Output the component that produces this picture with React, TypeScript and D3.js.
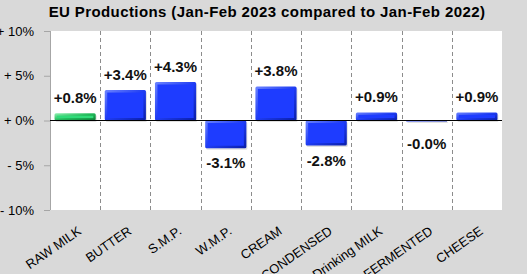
import React from 'react';
import * as d3 from 'd3';

const categories = ['RAW MILK', 'BUTTER', 'S.M.P.', 'W.M.P.', 'CREAM', 'CONDENSED', 'Drinking MILK', 'FERMENTED', 'CHEESE'];
const values = [0.8, 3.4, 4.3, -3.1, 3.8, -2.8, 0.9, -0.02, 0.9];
const yTicks = [10, 5, 0, -5, -10];
const yTickLabels = ['+ 10%', '+ 5%', '+ 0%', '- 5%', '- 10%'];

const W = 527;
const H = 274;
const margin = { top: 31, right: 25, bottom: 64, left: 50 };

const fmt = (v: number) => (v >= 0 ? '+' : '-') + Math.abs(v).toFixed(1) + '%';

const App: React.FC = () => {
    React.useEffect(() => {
        document.body.style.margin = '0';
    }, []);

    const x = d3.scaleBand<string>()
        .domain(categories)
        .range([margin.left, W - margin.right])
        .paddingInner(0.18)
        .paddingOuter(0.09);

    const y = d3.scaleLinear()
        .domain([-10, 10])
        .range([H - margin.bottom, margin.top]);

    const step = x.step();
    const x0 = margin.left;
    const x1 = W - margin.right;

    return (
        <svg width={W} height={H} style={{ display: 'block', fontFamily: 'Liberation Sans, Arial, sans-serif' }}>
            <defs>
                <linearGradient id="blueEdge" x1="0" y1="0" x2="1" y2="1">
                    <stop offset="0" stopColor="#6c84ff" />
                    <stop offset="0.5" stopColor="#1f3cf2" />
                    <stop offset="1" stopColor="#0a1ea8" />
                </linearGradient>
                <linearGradient id="greenEdge" x1="0" y1="0" x2="1" y2="1">
                    <stop offset="0" stopColor="#8ef2b0" />
                    <stop offset="0.5" stopColor="#22b85a" />
                    <stop offset="1" stopColor="#0c7a35" />
                </linearGradient>
            </defs>
            <rect x={0} y={0} width={W} height={H} fill="#d9d9d9" />
            <rect x={x0} y={y(10)} width={x1 - x0} height={y(-10) - y(10)} fill="#ffffff" />

            {/* dashed category separators */}
            {categories.slice(1).map((c) => {
                const xx = Math.round((x(c) ?? 0) - step * x.paddingInner() / 2) + 0.5;
                return (
                    <line key={c} x1={xx} x2={xx} y1={y(10)} y2={y(-10)}
                        stroke="#8c8c8c" strokeDasharray="4,3" strokeWidth={1} />
                );
            })}

            {/* y axis */}
            <line x1={x0 + 0.5} x2={x0 + 0.5} y1={y(10)} y2={y(-10)} stroke="#a6a6a6" />
            {yTicks.map((t, i) => (
                <g key={t}>
                    <line x1={x0 - 6} x2={x0} y1={y(t) + 0.5} y2={y(t) + 0.5} stroke="#a6a6a6" />
                    <text x={34} y={y(t)} dy="0.35em" textAnchor="end" fontSize={13} fill="#000">
                        {yTickLabels[i]}
                    </text>
                </g>
            ))}

            {/* bars */}
            {categories.map((c, i) => {
                const v = values[i];
                const top = y(Math.max(0, v));
                const h = Math.max(Math.abs(y(v) - y(0)), 1);
                const bx = x(c) ?? 0;
                const bw = x.bandwidth();
                const green = i === 0;
                const inset = Math.min(2.5, h / 3);
                return (
                    <g key={c}>
                        <rect x={bx + 1} y={top + 1.5} width={bw} height={h} rx={1.5} fill="#000" opacity={0.12} />
                        <rect x={bx} y={top} width={bw} height={h} rx={1.5}
                            fill={green ? 'url(#greenEdge)' : 'url(#blueEdge)'} />
                        {h > 3 && (
                            <rect x={bx + inset} y={top + inset} width={bw - inset * 2} height={h - inset * 2}
                                fill={green ? '#2fdc78' : '#1e3cff'} />
                        )}
                    </g>
                );
            })}

            {/* zero line */}
            <line x1={x0} x2={x1} y1={y(0)} y2={y(0)} stroke="#000" strokeWidth={1.2} />

            {/* value labels */}
            {categories.map((c, i) => {
                const v = values[i];
                const cx = (x(c) ?? 0) + x.bandwidth() / 2;
                const ly = v >= 0 ? y(v) - 10 : Math.max(y(v), y(0) + 8) + 20;
                return (
                    <text key={c} x={cx} y={ly} textAnchor="middle" fontSize={15} fontWeight="bold" fill="#111">
                        {fmt(v)}
                    </text>
                );
            })}

            {/* category labels */}
            {categories.map((c) => {
                const cx = (x(c) ?? 0) + x.bandwidth() / 2 + 7;
                return (
                    <text key={c} transform={`translate(${cx},${y(-10) + 23}) rotate(-35)`}
                        textAnchor="end" fontSize={13} fill="#000">
                        {c}
                    </text>
                );
            })}

            {/* title */}
            <text x={267} y={17} textAnchor="middle" fontSize={15} fontWeight="bold" letterSpacing={0.4} fill="#000">
                EU Productions  (Jan-Feb 2023 compared to Jan-Feb 2022)
            </text>
        </svg>
    );
};

export default App;
